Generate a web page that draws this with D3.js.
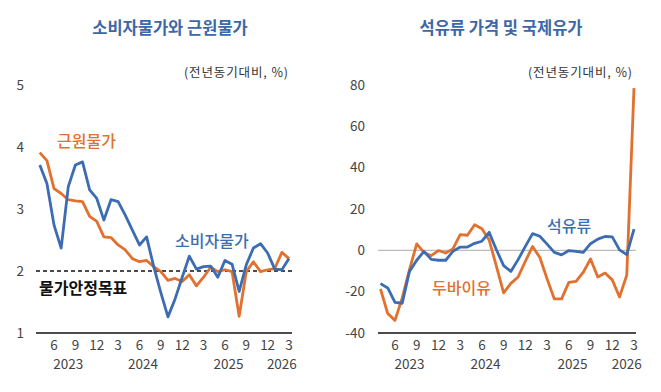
<!DOCTYPE html>
<html>
<head>
<meta charset="utf-8">
<script src="https://cdn.jsdelivr.net/npm/d3@7"></script>
<style>
  body { margin: 0; background: #fff; }
  text { font-family: "Noto Sans CJK KR", "Noto Sans", sans-serif; }
</style>
</head>
<body>
<div id="chart"></div>
<script>
// 2023.4 ~ 2026.3 월별
const months = d3.range(36);
const monthTicks = [2, 5, 8, 11, 14, 17, 20, 23, 26, 29, 32, 35];
const monthTickLabels = ["6", "9", "12", "3", "6", "9", "12", "3", "6", "9", "12", "3"];
const yearLabels = ["2023", "2024", "2025", "2026"];

// 소비자물가 / 근원물가 (전년동기대비, %)
const cpi = [3.71, 3.41, 2.74, 2.37, 3.36, 3.71, 3.76, 3.31, 3.17, 2.82, 3.15, 3.12,
  2.9, 2.66, 2.42, 2.55, 2.07, 1.65, 1.26, 1.55, 1.9, 2.24, 2.03, 2.07,
  2.08, 1.9, 2.17, 2.11, 1.67, 2.1, 2.37, 2.44, 2.29, 2.03, 2.02, 2.2];
const core = [3.91, 3.78, 3.33, 3.25, 3.15, 3.13, 3.12, 2.88, 2.8, 2.55, 2.54, 2.42,
  2.34, 2.2, 2.15, 2.17, 2.07, 1.99, 1.85, 1.88, 1.83, 1.94, 1.76, 1.9,
  2.06, 1.99, 2.02, 1.99, 1.27, 1.99, 2.15, 1.99, 2.02, 2.04, 2.3, 2.2];
const leftTicks = [1, 2, 3, 4, 5];

// 석유류 / 두바이유 (전년동기대비, %)
const petroleum = [-16.1, -18.2, -25.2, -25.6, -10.2, -4.8, -0.5, -4.4, -4.8, -4.8, -0.5, 1.6,
  1.6, 3.4, 4.4, 8.7, 0.3, -7.4, -10.2, -4.5, 1.9, 8.1, 6.8, 3.0,
  -1.0, -2.2, -0.1, -0.5, -1.0, 3.2, 5.4, 6.7, 6.5, 0.2, -2.1, 10.3];
const dubai = [-18.7, -30.6, -33.9, -23, -9.3, 3.1, -1.0, -2.6, -0.1, -1.3, 0.7, 7.6,
  7.3, 12.4, 10.4, 5.0, -7.7, -20.6, -16.0, -12.9, -5.3, 1.9, -3.5, -13.8,
  -23.5, -23.5, -15.5, -15.0, -10.6, -4.2, -12.9, -11.0, -14.3, -22.6, -12.0, 78.5];
const rightTicks = [-40, -20, 0, 20, 40, 60, 80];

const width = 661, height = 392;
const blue = "#3c6cb2";
const orange = "#e2702e";
const titleBlue = "#3e67a6";
const yearPos = [4, 14.5, 26.5, 34];

const svg = d3.select("#chart").append("svg")
  .attr("width", width)
  .attr("height", height);

function drawPanel(opt) {
  const g = svg.append("g");
  const x = d3.scaleLinear().domain([0, 35]).range(opt.xRange);
  const y = d3.scaleLinear().domain(opt.yDomain).range([333, 85]);

  // 제목
  g.append("text")
    .attr("x", opt.titleX)
    .attr("y", 34)
    .attr("text-anchor", "middle")
    .attr("fill", titleBlue)
    .style("font-size", "16.5px")
    .style("font-weight", "bold")
    .text(opt.title);

  // 단위
  g.append("text")
    .attr("x", opt.axisRange[1] - 108)
    .attr("y", 77)
    .attr("textLength", 104)
    .attr("lengthAdjust", "spacing")
    .attr("fill", "#333")
    .style("font-size", "12.5px")
    .text("(전년동기대비,  %)");

  // y축 눈금
  g.selectAll(".ytick")
    .data(opt.ticks)
    .join("text")
    .attr("x", opt.yLabelX)
    .attr("y", d => y(d))
    .attr("dy", "0.35em")
    .attr("text-anchor", "end")
    .attr("fill", "#444")
    .style("font-size", "13.5px")
    .text(d => d);

  if (opt.zeroLine) {
    g.append("line")
      .attr("x1", opt.axisRange[0]).attr("x2", opt.axisRange[1])
      .attr("y1", y(0)).attr("y2", y(0))
      .attr("stroke", "#bcbcbc")
      .attr("stroke-width", 1.2);
  }

  // x축
  g.append("line")
    .attr("x1", opt.axisRange[0]).attr("x2", opt.axisRange[1])
    .attr("y1", 333).attr("y2", 333)
    .attr("stroke", "#111")
    .attr("stroke-width", 1.5);

  g.selectAll(".mtick")
    .data(monthTicks)
    .join("text")
    .attr("x", d => x(d))
    .attr("y", 350)
    .attr("text-anchor", "middle")
    .attr("fill", "#444")
    .style("font-size", "13.5px")
    .text((d, i) => monthTickLabels[i]);

  g.selectAll(".ytext")
    .data(yearLabels)
    .join("text")
    .attr("x", (d, i) => x(yearPos[i]))
    .attr("y", 369)
    .attr("text-anchor", "middle")
    .attr("fill", "#444")
    .style("font-size", "13.5px")
    .text(d => d);

  if (opt.target) {
    g.append("line")
      .attr("x1", opt.axisRange[0]).attr("x2", opt.axisRange[1])
      .attr("y1", y(opt.target)).attr("y2", y(opt.target))
      .attr("stroke", "#111")
      .attr("stroke-width", 1.3)
      .attr("stroke-dasharray", "4 3");
  }

  const line = d3.line()
    .x((d, i) => x(months[i]))
    .y(d => y(d));

  opt.series.forEach(s => {
    g.append("path")
      .datum(s.values)
      .attr("fill", "none")
      .attr("stroke", s.color)
      .attr("stroke-width", 2.8)
      .attr("stroke-linejoin", "round")
      .attr("d", line);
  });

  opt.labels.forEach(l => {
    g.append("text")
      .attr("x", l.x)
      .attr("y", l.y)
      .attr("dy", "0.35em")
      .attr("fill", l.color)
      .style("font-size", "16px")
      .style("font-weight", l.bold ? "bold" : "500")
      .text(l.text);
  });
}

drawPanel({
  title: "소비자물가와 근원물가",
  titleX: 170,
  xRange: [39.8, 289],
  axisRange: [36, 292],
  yDomain: [1, 5],
  ticks: leftTicks,
  yLabelX: 24,
  target: 2,
  series: [
    { values: core, color: orange },
    { values: cpi, color: blue }
  ],
  labels: [
    { text: "근원물가", x: 57, y: 141, color: orange },
    { text: "소비자물가", x: 175, y: 241.5, color: blue },
    { text: "물가안정목표", x: 39, y: 288, color: "#111", bold: true }
  ]
});

drawPanel({
  title: "석유류 가격 및 국제유가",
  titleX: 501,
  xRange: [380.5, 634],
  axisRange: [378, 636],
  yDomain: [-40, 80],
  ticks: rightTicks,
  yLabelX: 365,
  zeroLine: true,
  series: [
    { values: dubai, color: orange },
    { values: petroleum, color: blue }
  ],
  labels: [
    { text: "석유류", x: 547, y: 226, color: blue },
    { text: "두바이유", x: 432, y: 288, color: orange }
  ]
});
</script>
</body>
</html>
